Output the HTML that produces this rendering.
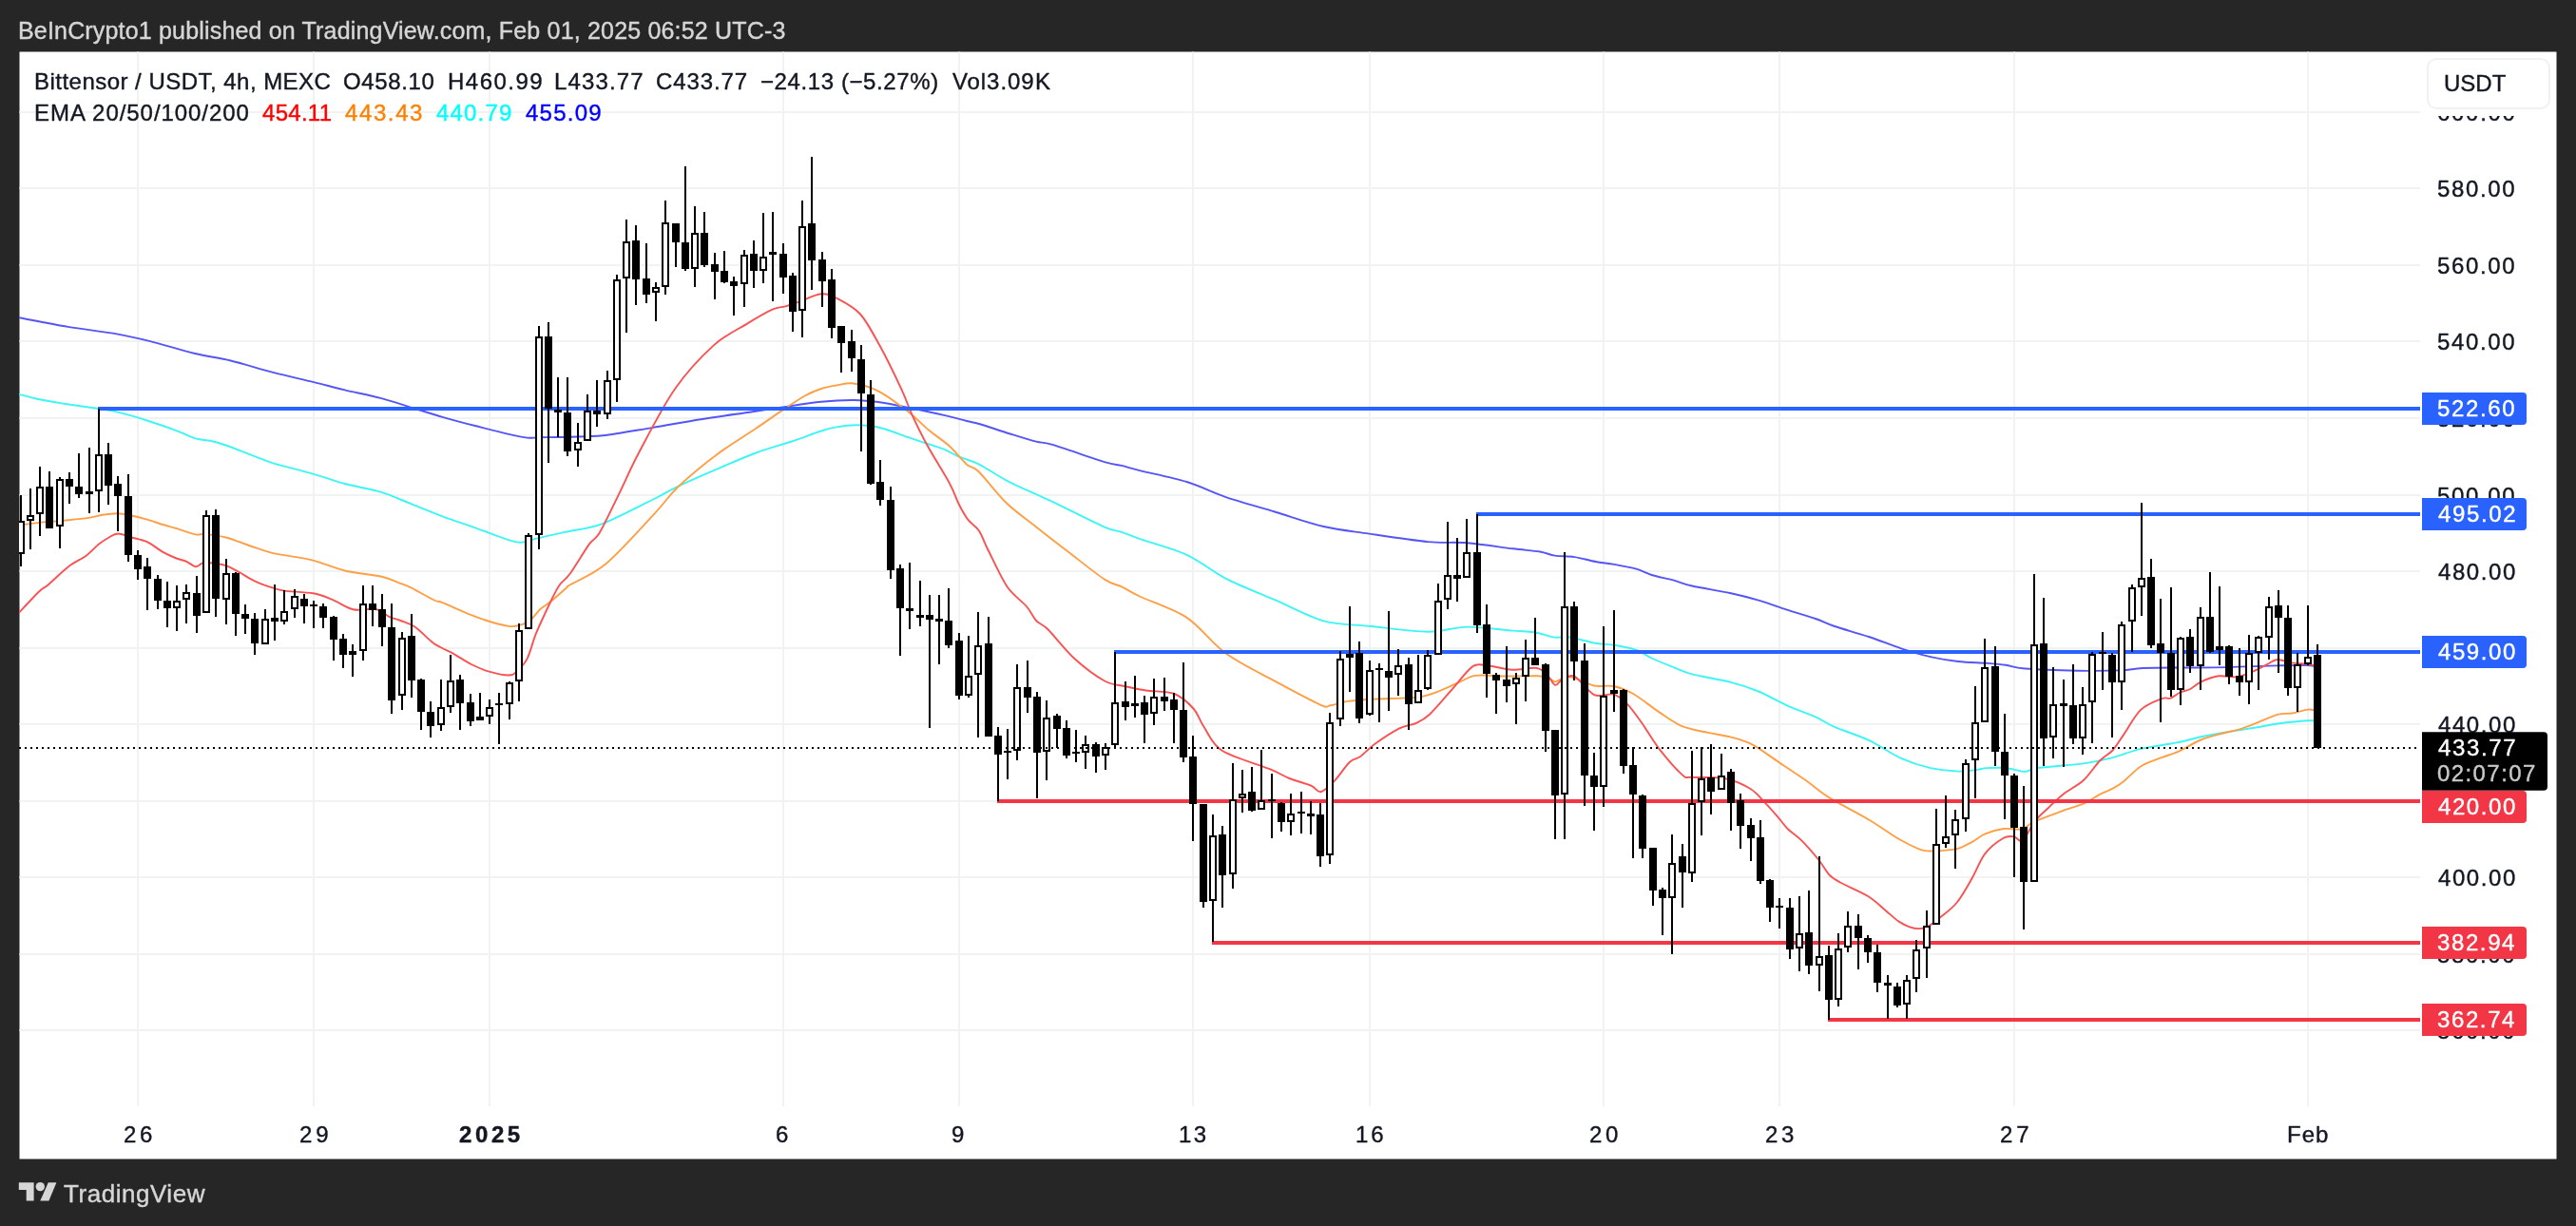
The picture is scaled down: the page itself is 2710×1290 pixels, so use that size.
<!DOCTYPE html><html><head><meta charset="utf-8"><title>TAO chart</title><style>
html,body{margin:0;padding:0}body{width:2710px;height:1290px;background:#262626;position:relative;overflow:hidden;font-family:"Liberation Sans",sans-serif}
.t{position:absolute;white-space:pre;font-family:"Liberation Sans",sans-serif;will-change:transform;-webkit-text-stroke:0.4px currentColor}
.usdt{position:absolute;left:2553px;top:61px;width:126px;height:50px;border:2px solid #f0f1f4;border-radius:10px;background:#fff}
</style></head><body>
<svg width="2710" height="1290" viewBox="0 0 2710 1290" style="position:absolute;left:0;top:0"><rect x="20.5" y="54.5" width="2669" height="1165" fill="#fff"/><path d="M20.5 118H2546M20.5 198H2546M20.5 279H2546M20.5 359H2546M20.5 440H2546M20.5 521H2546M20.5 601H2546M20.5 682H2546M20.5 762H2546M20.5 843H2546M20.5 923H2546M20.5 1004H2546M20.5 1084H2546M145 54.5V1164M330 54.5V1164M515 54.5V1164M824 54.5V1164M1009 54.5V1164M1255 54.5V1164M1441 54.5V1164M1687 54.5V1164M1872 54.5V1164M2119 54.5V1164M2428 54.5V1164" stroke="#f1f3f3" stroke-width="2" fill="none"/><clipPath id="c"><rect x="20" y="54" width="2526" height="1110"/></clipPath><g clip-path="url(#c)"><path d="M20.0 334.3C28.2 335.8 55.0 341.2 71.4 343.9C87.8 346.6 109.1 349.0 122.8 351.4C136.5 353.8 143.9 355.6 157.1 358.9C170.3 362.2 191.4 368.7 205.1 372.0C218.8 375.3 229.6 376.3 242.8 379.5C256.0 382.7 273.3 388.2 287.3 391.8C301.3 395.4 318.0 399.1 330.1 402.1C342.2 405.1 351.5 407.6 362.7 410.3C373.9 413.0 389.2 415.9 400.4 418.9C411.6 421.9 422.6 425.7 433.0 428.9C443.4 432.1 454.8 435.7 465.5 438.8C476.2 441.9 488.8 445.2 499.8 448.0C510.8 450.8 525.3 454.6 534.1 456.6C542.9 458.6 549.1 460.0 554.6 460.6C560.1 461.2 561.0 460.3 568.3 460.2C575.6 460.1 589.4 460.0 600.0 459.7C610.6 459.4 620.6 459.8 634.3 458.3C648.0 456.8 669.3 452.8 685.7 450.1C702.1 447.4 720.7 443.8 737.1 441.2C753.5 438.6 774.8 435.7 788.5 433.7C802.2 431.7 810.7 430.3 822.8 428.5C834.9 426.7 851.8 423.9 863.9 422.7C876.0 421.5 888.3 420.9 898.2 421.0C908.1 421.1 916.3 422.0 925.6 423.3C934.9 424.6 945.4 426.8 956.4 429.0C967.4 431.2 984.4 434.9 994.1 437.1C1003.8 439.3 1011.0 441.5 1017.0 443.0C1023.0 444.5 1024.5 444.3 1031.8 446.5C1039.1 448.7 1053.3 453.6 1062.6 456.5C1071.9 459.4 1083.0 462.9 1090.1 464.7C1097.2 466.5 1095.7 464.5 1107.2 467.9C1118.7 471.3 1150.4 482.6 1162.0 486.1C1173.6 489.6 1173.9 488.4 1180.0 489.9C1186.1 491.4 1189.0 492.6 1200.0 495.3C1211.0 498.0 1234.1 502.6 1248.5 507.0C1262.9 511.4 1274.9 518.1 1289.7 523.1C1304.5 528.1 1324.7 533.6 1341.1 538.5C1357.5 543.4 1376.6 550.3 1392.5 554.0C1408.4 557.7 1422.9 559.0 1440.4 561.6C1457.9 564.2 1485.6 568.5 1502.1 570.1C1518.6 571.7 1529.0 570.1 1543.3 571.3C1557.6 572.5 1578.9 575.8 1591.2 577.3C1603.5 578.8 1612.9 579.3 1620.0 580.5C1627.1 581.7 1629.9 583.7 1635.7 584.6C1641.5 585.5 1649.6 585.1 1656.5 586.1C1663.4 587.1 1672.0 589.8 1678.7 591.0C1685.4 592.2 1691.5 592.7 1698.3 593.9C1705.1 595.1 1715.2 596.9 1721.5 598.7C1727.8 600.5 1731.3 603.1 1737.5 605.0C1743.7 606.9 1753.2 608.6 1760.0 610.4C1766.8 612.2 1770.4 614.3 1780.0 616.5C1789.6 618.7 1808.8 621.6 1820.0 624.0C1831.2 626.4 1840.4 628.8 1850.0 631.6C1859.6 634.4 1870.4 638.5 1880.0 641.6C1889.6 644.7 1902.0 648.2 1910.0 651.0C1918.0 653.8 1921.0 656.0 1930.0 659.0C1939.0 662.0 1954.8 666.3 1966.0 670.0C1977.2 673.7 1989.8 679.0 2000.0 682.3C2010.2 685.6 2020.4 688.7 2030.0 690.9C2039.6 693.1 2050.4 694.9 2060.0 696.0C2069.6 697.1 2082.0 697.2 2090.0 697.8C2098.0 698.4 2103.6 698.8 2110.0 699.7C2116.4 700.6 2118.0 702.5 2130.2 703.5C2142.4 704.5 2169.8 705.4 2186.0 705.7C2202.2 706.0 2220.4 705.8 2231.3 705.4C2242.2 705.0 2243.1 703.5 2254.1 703.0C2265.1 702.5 2285.6 702.6 2299.8 702.5C2314.0 702.4 2327.6 702.4 2343.0 702.1C2358.4 701.8 2382.4 700.7 2396.0 700.4C2409.6 700.1 2421.3 699.8 2427.9 700.0C2434.5 700.2 2435.5 701.4 2437.0 701.7" stroke="#5555f6" stroke-width="1.9" fill="none" stroke-linejoin="round" stroke-linecap="round"/><path d="M20.0 414.8C23.2 415.6 32.5 418.4 40.1 420.0C47.7 421.6 57.3 423.1 67.3 424.7C77.3 426.3 93.7 428.5 102.8 429.9C111.9 431.3 115.8 431.7 124.1 433.7C132.4 435.7 145.0 439.4 154.8 442.5C164.6 445.6 177.5 450.1 185.6 453.1C193.7 456.1 200.0 459.7 205.7 461.4C211.4 463.1 216.0 462.7 221.1 463.8C226.2 464.9 230.0 465.9 237.6 468.5C245.2 471.1 260.4 477.3 268.4 480.3C276.4 483.3 277.4 484.4 287.3 487.4C297.2 490.4 318.0 495.3 330.1 498.8C342.2 502.3 351.5 506.0 362.7 509.0C373.9 512.0 389.2 514.2 400.4 517.6C411.6 521.0 422.6 526.2 433.0 530.3C443.4 534.4 454.8 539.3 465.5 543.3C476.2 547.3 488.8 551.4 499.8 555.3C510.8 559.2 526.4 565.3 534.1 567.8C541.8 570.3 543.4 570.9 547.8 570.8C552.2 570.7 554.9 568.9 561.5 567.3C568.1 565.7 582.7 562.5 588.9 561.1C595.1 559.7 592.7 560.3 600.0 558.7C607.3 557.1 620.0 556.4 634.3 550.9C648.6 545.4 676.5 530.8 689.1 524.5C701.7 518.2 702.7 516.7 713.1 511.8C723.5 506.9 741.0 499.2 754.2 493.6C767.4 488.0 782.7 481.2 795.3 476.5C807.9 471.8 822.0 468.2 833.0 464.5C844.0 460.8 856.4 455.9 863.9 453.5C871.4 451.1 874.0 450.4 880.0 449.4C886.0 448.4 894.3 447.2 901.6 447.3C908.9 447.4 916.8 447.9 925.6 450.0C934.4 452.1 948.4 457.7 956.4 460.4C964.4 463.1 969.9 465.0 975.9 467.0C981.9 469.0 988.8 470.9 994.1 473.1C999.4 475.3 1003.3 478.3 1009.0 480.7C1014.7 483.1 1021.6 484.3 1029.6 488.3C1037.6 492.3 1049.6 500.7 1059.3 505.8C1069.0 510.9 1082.4 516.7 1090.1 520.2C1097.8 523.7 1095.7 522.4 1107.2 527.9C1118.7 533.4 1150.4 549.5 1162.0 554.6C1173.6 559.7 1173.9 557.8 1180.0 559.8C1186.1 561.8 1189.0 563.5 1200.0 567.3C1211.0 571.1 1234.1 577.2 1248.5 583.8C1262.9 590.4 1274.9 601.2 1289.7 608.8C1304.5 616.4 1324.7 624.0 1341.1 631.1C1357.5 638.2 1376.6 648.9 1392.5 653.3C1408.4 657.7 1422.9 657.0 1440.4 658.8C1457.9 660.6 1485.6 664.6 1502.1 664.7C1518.6 664.8 1529.0 659.8 1543.3 659.6C1557.6 659.4 1579.9 662.7 1591.2 663.6C1602.5 664.5 1606.7 664.1 1613.8 665.2C1620.9 666.3 1629.9 669.8 1635.7 670.6C1641.5 671.4 1643.1 669.3 1650.0 670.3C1656.9 671.3 1671.0 675.4 1678.7 676.8C1686.4 678.2 1691.5 677.6 1698.3 678.8C1705.1 680.0 1715.2 681.8 1721.5 684.0C1727.8 686.2 1731.3 689.6 1737.5 692.5C1743.7 695.4 1753.2 699.2 1760.0 701.9C1766.8 704.6 1770.4 706.9 1780.0 709.4C1789.6 711.9 1808.8 714.8 1820.0 717.7C1831.2 720.6 1840.4 723.6 1850.0 727.5C1859.6 731.4 1870.4 738.0 1880.0 742.3C1889.6 746.6 1902.0 750.7 1910.0 754.3C1918.0 757.9 1921.0 761.0 1930.0 764.9C1939.0 768.8 1954.8 773.6 1966.0 778.9C1977.2 784.2 1989.8 793.3 2000.0 797.9C2010.2 802.5 2020.4 805.7 2030.0 807.9C2039.6 810.1 2052.0 811.3 2060.0 811.6C2068.0 811.9 2075.2 810.5 2080.0 809.9C2084.8 809.3 2085.2 808.4 2090.0 808.1C2094.8 807.8 2103.6 807.4 2110.0 808.0C2116.4 808.6 2125.3 811.8 2130.2 811.9C2135.1 812.0 2134.1 809.5 2140.5 808.5C2146.9 807.5 2162.0 806.3 2170.2 805.5C2178.4 804.7 2183.5 804.7 2191.9 803.4C2200.3 802.1 2213.0 799.6 2222.7 797.1C2232.4 794.6 2241.6 790.4 2252.4 787.9C2263.2 785.4 2279.9 783.4 2290.0 781.4C2300.1 779.4 2307.6 777.0 2315.4 775.3C2323.2 773.6 2329.3 772.6 2338.8 771.0C2348.3 769.4 2365.6 766.8 2374.8 765.3C2384.0 763.8 2387.5 762.6 2396.0 761.5C2404.5 760.4 2421.3 758.7 2427.9 758.3C2434.5 757.9 2435.5 758.6 2437.0 758.7" stroke="#3df5f5" stroke-width="1.9" fill="none" stroke-linejoin="round" stroke-linecap="round"/><path d="M20.0 552.6C23.8 552.1 36.1 550.4 43.7 549.6C51.3 548.8 59.4 548.5 67.3 547.7C75.2 546.9 86.9 545.8 93.3 544.9C99.7 544.0 102.6 542.6 107.5 541.8C112.4 541.0 119.2 540.1 124.1 540.2C129.0 540.3 133.4 541.5 138.3 542.5C143.2 543.5 149.5 545.1 154.8 546.6C160.1 548.1 166.5 550.5 171.4 552.0C176.3 553.5 180.1 554.3 185.6 556.0C191.1 557.7 201.2 561.5 205.7 562.4C210.2 563.3 210.8 561.8 214.0 561.9C217.2 562.0 222.0 562.5 225.8 563.1C229.6 563.7 233.4 564.4 237.6 565.5C241.8 566.6 246.9 568.5 251.8 570.2C256.7 571.9 262.7 574.2 268.4 576.1C274.1 578.0 281.6 580.7 287.3 582.1C293.0 583.5 297.1 583.7 303.9 584.9C310.7 586.1 320.7 587.3 330.1 589.8C339.5 592.3 351.5 597.8 362.7 600.5C373.9 603.2 391.0 604.4 400.4 606.5C409.8 608.6 416.2 611.8 421.4 613.8C426.6 615.8 427.4 615.9 433.0 618.7C438.6 621.5 451.5 629.0 456.7 631.5C461.9 634.0 459.2 631.6 465.5 634.1C471.8 636.6 487.8 643.9 495.8 647.1C503.8 650.3 509.1 652.1 515.4 654.0C521.7 655.9 530.0 658.3 535.0 658.9C540.0 659.5 543.0 658.9 546.7 657.9C550.4 656.9 554.5 655.2 558.0 652.5C561.5 649.8 564.8 644.2 568.3 641.0C571.8 637.8 575.6 636.1 580.0 632.5C584.4 628.9 592.5 621.5 595.7 618.7C598.9 615.9 593.3 619.3 600.0 615.2C606.7 611.1 623.4 605.0 637.7 593.0C652.0 581.0 677.0 552.8 689.1 539.9C701.2 527.0 702.7 522.4 713.1 512.5C723.5 502.6 741.0 488.1 754.2 478.2C767.4 468.3 784.3 458.2 795.3 450.8C806.3 443.4 814.6 437.4 822.8 431.9C831.0 426.4 840.1 420.2 846.7 416.5C853.3 412.8 858.6 410.8 863.9 409.0C869.2 407.2 874.5 406.4 880.0 405.5C885.5 404.6 890.9 402.4 898.2 403.5C905.5 404.6 916.3 407.4 925.6 412.3C934.9 417.2 948.2 427.6 956.4 434.0C964.6 440.4 970.2 446.9 977.0 452.5C983.8 458.1 992.3 463.5 998.7 469.3C1005.1 475.1 1012.1 484.4 1017.0 488.7C1021.9 493.0 1022.8 489.6 1029.6 496.2C1036.4 502.8 1049.6 520.5 1059.3 529.8C1069.0 539.1 1079.7 546.2 1090.1 554.4C1100.5 562.6 1112.8 572.2 1124.3 581.0C1135.8 589.8 1153.1 603.8 1162.0 609.6C1170.9 615.4 1173.9 614.5 1180.0 617.4C1186.1 620.3 1189.0 622.8 1200.0 628.0C1211.0 633.2 1234.1 640.4 1248.5 649.9C1262.9 659.4 1274.9 676.9 1289.7 687.6C1304.5 698.3 1325.2 708.1 1341.1 716.7C1357.0 725.3 1379.7 737.5 1389.0 741.6C1398.3 745.7 1395.0 742.9 1399.5 742.3C1404.0 741.7 1409.8 739.0 1417.4 737.9C1425.0 736.8 1434.3 736.3 1447.1 735.5C1459.9 734.7 1483.8 735.2 1497.3 732.6C1510.8 730.0 1522.8 723.0 1531.6 719.5C1540.4 716.0 1543.7 712.2 1552.1 710.9C1560.5 709.6 1573.5 711.4 1584.1 711.5C1594.7 711.6 1611.1 710.9 1618.4 711.3C1625.7 711.7 1627.0 712.8 1629.8 713.8C1632.6 714.8 1633.8 717.4 1636.0 717.4C1638.2 717.4 1640.5 714.6 1643.5 713.8C1646.5 713.0 1649.2 711.5 1654.6 712.7C1660.0 713.9 1670.2 720.0 1677.1 721.5C1684.0 723.0 1691.0 720.6 1697.6 722.0C1704.2 723.4 1710.5 725.6 1718.2 730.0C1725.9 734.4 1737.4 743.9 1745.6 749.4C1753.8 754.9 1761.2 760.7 1769.6 764.2C1778.0 767.7 1789.9 769.3 1798.1 771.1C1806.3 772.9 1813.7 773.6 1821.0 775.6C1828.3 777.6 1835.8 779.4 1843.8 783.6C1851.8 787.8 1862.2 795.9 1871.2 801.9C1880.2 807.9 1891.5 815.3 1900.0 821.3C1908.5 827.3 1914.0 832.9 1924.5 839.4C1935.0 845.9 1953.9 855.3 1965.6 862.2C1977.3 869.1 1989.2 877.9 1997.6 882.8C2006.0 887.7 2013.3 891.1 2018.1 893.1C2022.9 895.1 2023.6 895.1 2027.3 895.4C2031.0 895.7 2036.0 895.5 2041.0 895.1C2046.0 894.7 2053.5 894.6 2058.8 893.2C2064.1 891.8 2069.6 888.6 2074.3 886.1C2079.0 883.6 2083.0 879.7 2088.4 877.4C2093.8 875.1 2101.9 872.8 2108.0 872.0C2114.1 871.2 2121.6 873.6 2126.8 872.4C2132.0 871.2 2133.6 867.5 2140.5 864.4C2147.4 861.3 2162.0 856.0 2170.2 853.0C2178.4 850.0 2185.7 848.4 2191.9 845.7C2198.1 843.0 2204.1 838.5 2209.0 835.9C2213.9 833.3 2218.7 831.9 2222.7 829.7C2226.7 827.5 2229.3 826.0 2234.1 822.2C2238.9 818.4 2246.0 810.2 2252.4 806.2C2258.8 802.2 2267.8 799.6 2274.1 797.1C2280.4 794.6 2285.4 793.6 2292.0 790.6C2298.6 787.6 2307.9 781.6 2315.4 778.5C2322.9 775.4 2332.0 773.4 2338.8 771.5C2345.6 769.6 2352.1 768.6 2357.9 766.8C2363.7 765.0 2368.7 762.8 2374.8 760.4C2380.9 758.0 2390.2 753.5 2396.0 751.9C2401.8 750.3 2405.8 751.3 2410.9 750.5C2416.0 749.7 2423.7 747.0 2427.9 746.6C2432.1 746.2 2435.5 747.5 2437.0 747.7" stroke="#ff9f45" stroke-width="1.9" fill="none" stroke-linejoin="round" stroke-linecap="round"/><path d="M20.0 644.7C23.4 641.1 36.4 627.0 41.3 622.3C46.2 617.6 45.9 619.4 50.8 615.2C55.7 611.0 65.6 601.1 72.0 596.2C78.4 591.3 85.9 588.2 91.0 584.4C96.1 580.6 100.2 575.6 104.0 572.6C107.8 569.6 111.4 567.3 114.6 565.5C117.8 563.7 120.3 561.5 124.1 561.5C127.9 561.5 133.4 564.1 138.3 565.5C143.2 566.9 149.5 567.7 154.8 570.2C160.1 572.7 166.5 578.1 171.4 580.9C176.3 583.7 181.6 585.9 185.6 587.5C189.6 589.1 193.0 589.4 196.2 590.8C199.4 592.2 203.0 595.9 205.7 596.2C208.4 596.5 210.3 593.3 212.8 592.7C215.3 592.1 217.1 591.8 221.1 592.2C225.1 592.6 232.7 593.5 237.6 595.1C242.5 596.7 246.9 599.6 251.8 602.2C256.7 604.8 262.7 609.0 268.4 611.6C274.1 614.2 282.4 617.1 287.3 618.7C292.2 620.3 292.5 620.7 299.2 621.6C305.9 622.5 321.4 622.9 329.4 624.3C337.4 625.7 342.3 627.9 349.0 630.6C355.7 633.3 364.5 639.6 371.4 641.2C378.3 642.8 387.4 640.5 392.0 640.7C396.6 640.9 397.6 641.4 400.4 642.7C403.2 644.0 406.3 647.5 409.7 649.1C413.1 650.7 417.0 651.3 421.4 653.0C425.8 654.7 431.5 656.1 437.1 660.0C442.7 663.9 450.4 672.9 456.7 677.3C463.0 681.7 469.9 683.8 476.2 687.3C482.5 690.8 489.5 695.9 495.8 699.0C502.1 702.1 509.1 705.1 515.4 706.9C521.7 708.7 530.6 710.5 535.0 710.5C539.4 710.5 539.7 710.0 542.8 707.2C545.9 704.4 551.2 699.7 554.6 693.1C558.0 686.5 560.2 675.6 564.3 665.7C568.4 655.8 576.1 639.6 580.0 631.5C583.9 623.4 585.7 619.8 588.9 615.3C592.1 610.8 595.0 610.2 600.0 603.3C605.0 596.4 615.1 579.2 620.0 572.4C624.9 565.6 625.8 569.0 630.8 560.5C635.8 552.0 644.8 532.7 651.4 519.3C658.0 505.9 662.7 494.0 672.0 476.5C681.3 459.0 697.1 427.8 709.7 409.7C722.3 391.6 738.7 374.4 750.8 363.4C762.9 352.4 775.2 347.1 785.1 341.1C795.0 335.1 805.9 328.7 812.5 325.7C819.1 322.7 821.8 323.6 826.2 322.3C830.6 321.0 833.9 319.9 839.9 317.8C845.9 315.7 857.3 309.9 863.9 309.3C870.5 308.7 874.4 310.8 881.0 314.2C887.6 317.6 897.9 322.6 905.0 330.5C912.1 338.4 918.6 351.1 925.6 363.8C932.6 376.5 943.0 398.1 948.5 409.9C954.0 421.7 955.5 427.8 959.9 437.3C964.3 446.8 969.7 458.0 975.9 469.3C982.1 480.6 993.4 498.2 998.7 508.1C1004.0 518.0 1005.9 524.8 1009.0 531.0C1012.1 537.2 1014.9 542.2 1018.2 546.6C1021.5 551.0 1026.3 553.0 1029.8 558.3C1033.3 563.6 1035.1 570.1 1039.9 579.5C1044.7 588.9 1053.1 607.9 1059.5 617.3C1065.9 626.7 1075.0 632.3 1079.9 638.0C1084.8 643.7 1086.5 649.1 1090.1 653.0C1093.7 656.9 1096.3 656.1 1102.7 662.5C1109.1 668.9 1120.6 684.1 1130.1 692.7C1139.6 701.3 1153.7 711.8 1162.1 716.5C1170.5 721.2 1175.8 720.4 1182.8 722.0C1189.8 723.6 1197.3 725.2 1205.7 726.5C1214.1 727.8 1227.4 726.9 1235.4 730.0C1243.4 733.1 1251.0 740.5 1255.9 746.0C1260.8 751.5 1261.4 757.2 1266.2 764.2C1271.0 771.2 1274.5 782.6 1285.6 789.8C1296.7 797.0 1324.5 804.5 1335.8 809.2C1347.1 813.9 1349.5 816.2 1356.4 819.0C1363.3 821.8 1373.9 824.3 1379.2 826.6C1384.5 828.9 1385.7 833.9 1389.5 833.2C1393.3 832.5 1398.3 827.4 1403.2 822.4C1408.1 817.4 1415.5 806.0 1420.0 801.8C1424.5 797.6 1426.8 799.1 1431.1 796.0C1435.4 792.9 1440.5 787.0 1447.1 782.3C1453.7 777.6 1465.3 769.9 1472.2 766.4C1479.1 762.9 1485.4 763.0 1490.5 760.6C1495.6 758.2 1498.7 756.6 1504.2 751.5C1509.7 746.4 1518.1 736.2 1524.7 728.7C1531.3 721.2 1540.5 709.4 1545.3 704.7C1550.1 700.0 1550.8 700.0 1554.4 699.4C1558.0 698.8 1562.2 700.0 1568.1 700.8C1574.0 701.6 1583.3 704.4 1591.0 704.7C1598.7 705.0 1610.3 702.1 1616.1 702.9C1621.9 703.7 1624.3 707.1 1627.5 710.0C1630.7 712.9 1633.5 720.0 1636.0 720.8C1638.5 721.6 1640.1 716.6 1643.3 715.1C1646.5 713.6 1650.9 709.0 1656.3 711.6C1661.7 714.2 1670.5 728.1 1677.1 731.1C1683.7 734.1 1692.1 729.1 1697.6 730.6C1703.1 732.1 1706.5 735.4 1711.3 740.2C1716.1 745.0 1721.8 753.1 1727.3 760.8C1732.8 768.5 1738.8 779.5 1745.6 788.2C1752.4 796.9 1764.1 810.3 1769.6 815.1C1775.1 819.9 1772.8 817.3 1779.9 817.9C1787.0 818.5 1804.2 817.1 1814.1 819.0C1824.0 820.9 1834.6 825.8 1841.5 830.0C1848.4 834.2 1853.0 840.7 1857.5 845.3C1862.0 849.9 1865.9 854.4 1869.7 858.8C1873.5 863.2 1877.1 868.5 1881.1 872.5C1885.1 876.5 1889.7 878.8 1894.8 883.9C1899.9 889.0 1908.3 898.6 1913.1 904.5C1917.9 910.4 1920.9 916.7 1924.5 920.5C1928.1 924.3 1929.3 924.9 1935.9 928.5C1942.5 932.1 1957.9 938.5 1965.6 943.3C1973.3 948.1 1978.8 954.0 1983.9 958.2C1989.0 962.4 1993.6 966.9 1997.6 969.6C2001.6 972.3 2005.7 974.1 2009.0 975.3C2012.3 976.5 2015.2 977.1 2018.1 977.1C2021.0 977.1 2023.6 977.2 2027.3 975.3C2031.0 973.4 2036.0 969.6 2041.0 965.5C2046.0 961.4 2053.4 956.2 2058.8 949.5C2064.2 942.8 2070.1 932.0 2074.8 923.8C2079.5 915.6 2083.1 904.8 2088.4 898.1C2093.7 891.4 2102.9 884.6 2107.8 881.8C2112.7 879.0 2115.6 880.0 2118.8 880.4C2122.0 880.8 2124.4 887.1 2127.9 884.5C2131.4 881.9 2136.3 869.8 2140.5 864.4C2144.7 859.0 2149.4 855.3 2154.2 850.7C2159.0 846.1 2164.2 840.7 2170.2 835.9C2176.2 831.1 2185.7 826.7 2191.9 821.0C2198.1 815.3 2204.1 805.5 2209.0 800.5C2213.9 795.5 2218.5 793.9 2222.5 789.5C2226.5 785.1 2229.4 779.9 2234.1 773.1C2238.8 766.3 2245.7 753.0 2252.1 746.9C2258.5 740.8 2269.4 737.1 2274.4 735.1C2279.4 733.1 2280.4 735.7 2283.5 734.6C2286.6 733.5 2290.2 730.0 2293.5 728.5C2296.8 727.0 2300.8 726.8 2304.3 725.0C2307.8 723.2 2310.8 719.6 2315.6 717.4C2320.4 715.2 2328.2 712.1 2334.3 711.3C2340.4 710.5 2347.8 713.1 2353.6 712.3C2359.4 711.5 2365.5 708.4 2370.6 706.3C2375.7 704.2 2381.3 700.9 2385.4 698.9C2389.5 696.9 2391.9 694.2 2396.0 694.0C2400.1 693.8 2405.8 696.6 2410.9 697.4C2416.0 698.2 2423.7 698.3 2427.9 698.9C2432.1 699.5 2435.5 700.7 2437.0 701.0" stroke="#fa5252" stroke-width="1.9" fill="none" stroke-linejoin="round" stroke-linecap="round"/><rect x="103.0" y="428.0" width="2443.0" height="4" fill="#2962ff"/><rect x="1553.0" y="539.0" width="993.0" height="4" fill="#2962ff"/><rect x="1172.0" y="684.0" width="1374.0" height="4" fill="#2962ff"/><rect x="1049.0" y="841.0" width="1497.0" height="4" fill="#f23645"/><rect x="1275.0" y="990.0" width="1271.0" height="4" fill="#f23645"/><rect x="1923.0" y="1071.0" width="623.0" height="4" fill="#f23645"/><path d="M22 521V548M22 583V596M32 514V542M32 548V578M42 491V512M42 541V564M52 496V512M63 502V504M63 554V577M73 497V504M73 512V530M83 477V512M83 520V524M94 471V517M94 520V540M104 430V478M104 517V539M114 466V478M114 511V531M124 501V509M124 522V559M135 499V522M135 584V591M145 579V584M145 599V610M155 587V596M155 609V642M166 605V609M166 632V641M176 612V632M176 640V660M186 616V632M186 640V664M196 615V623M196 631V656M207 606V624M207 648V666M217 537V542M227 536V542M227 630V649M238 588V603M238 631V657M248 602V603M248 646V669M258 636V646M258 651V667M268 645V651M268 677V689M279 641V651M289 615V650M289 654V674M299 621V643M299 654V657M310 620V627M310 641V650M320 625V630M320 638V656M330 632V636M330 638V661M340 635V638M340 650V661M351 648V649M351 673V695M361 667V672M361 689V703M371 678V685M371 689V712M382 616V635M382 685V695M392 616V635M392 642V659M402 625V641M402 660V680M412 635V660M412 737V751M423 665V671M423 732V747M433 646V669M433 716V734M443 714V715M443 749V768M453 738V749M453 764V776M464 715V744M464 763V769M474 689V716M474 744V750M484 710V715M484 740V768M495 730V739M495 759V764M505 729V754M515 736V744M515 754V762M525 729V740M525 742V783M536 717V718M536 741V757M546 656V663M546 717V738M556 561V563M567 343V354M567 563V578M577 339V354M577 430V487M587 397V431M587 434V460M597 397V434M597 475V480M608 445V465M608 474V491M618 415V432M628 400V432M628 436V449M639 390V400M639 436V441M649 289V294M649 400V423M659 231V254M659 293V350M669 237V253M669 294V321M680 256V293M680 310V319M690 297V302M690 308V338M700 211V234M700 302V310M711 255V281M721 175V255M721 283V285M731 217V245M731 283V302M741 223V245M741 279V281M752 266V278M752 286V315M762 264V285M762 297V298M772 291V296M772 301V332M783 263V268M783 299V323M793 253V267M793 285V303M803 224V270M803 285V298M813 223V265M813 268V317M824 256V267M824 292V309M834 287V290M834 328V349M844 211V238M844 327V355M854 165V235M854 274V305M865 265V273M865 296V323M875 283V294M875 345V356M885 361V392M896 347V359M896 377V391M906 363V378M906 414V475M916 400V415M916 509V510M926 484V507M926 526V532M937 512V526M937 600V609M947 594V598M947 640V690M957 592V640M957 643V662M968 611V647M968 650V659M978 626V647M978 652V766M988 626V651M988 654V699M998 619V653M998 679V682M1009 666V674M1009 732V736M1019 669V711M1019 732V734M1029 644V679M1029 710V776M1040 649V677M1050 765V774M1050 794V843M1060 767V790M1060 792V820M1070 699V723M1070 790V800M1081 695V723M1081 734V750M1091 728V733M1091 792V840M1101 737V755M1101 791V821M1112 751V753M1112 767V787M1122 758V766M1122 795V798M1132 768V791M1132 793V802M1142 774V783M1142 792V809M1153 781V783M1153 796V813M1163 782V786M1163 795V810M1173 686V739M1173 784V787M1184 717V738M1184 744V758M1194 711V740M1194 743V755M1204 732V739M1204 752V782M1214 714V733M1214 751V763M1225 713V733M1225 738V748M1235 729V736M1235 747V782M1245 697V747M1245 797V802M1255 774V796M1255 846V885M1266 949V955M1276 857V879M1276 948V991M1286 869V878M1286 921V955M1297 803V841M1297 920V935M1307 810V835M1307 840V855M1317 807V833M1317 853V854M1327 789V842M1338 814V841M1338 843V882M1348 844V845M1348 865V875M1358 835V856M1358 865V879M1369 833V854M1369 856V877M1379 843V856M1379 859V878M1389 845V857M1389 901V912M1399 750V760M1399 900V909M1410 685V693M1410 757V764M1420 638V688M1420 692V728M1430 675V687M1430 756V761M1441 695V705M1441 752V753M1451 698V703M1451 705V760M1461 643V706M1461 713V748M1471 683V700M1471 710V732M1482 692V699M1482 741V768M1492 689V726M1502 684V689M1502 725V726M1513 614V632M1523 549V605M1523 631V641M1533 566V605M1533 609V633M1543 546V581M1554 541V581M1554 658V666M1564 636V657M1564 709V734M1574 708V710M1574 716V751M1585 680V715M1585 722V739M1595 708V713M1595 720V762M1605 673V692M1605 712V738M1615 650V692M1626 698V699M1626 769V791M1636 837V883M1646 581V638M1646 836V883M1656 633V638M1656 696V716M1667 677V695M1667 816V848M1677 792V816M1677 828V874M1687 659V732M1687 828V849M1698 642V726M1698 730V749M1708 725V726M1708 806V814M1718 786V805M1718 836V903M1728 836V837M1728 893V903M1739 937V953M1749 934V936M1749 945V984M1759 878V908M1759 945V1004M1770 888V901M1770 918V955M1780 790V845M1780 919V928M1790 786V819M1790 844V879M1800 783V818M1800 833V857M1811 793V816M1821 809V812M1821 845V874M1831 835V842M1831 869V893M1842 861V868M1842 882V906M1852 863V881M1852 927V930M1862 925V926M1862 955V970M1872 945V953M1872 955V977M1883 945V955M1883 999V1009M1893 943V982M1893 998V1022M1903 937V981M1903 1016V1025M1914 901V1006M1914 1016V1043M1924 995V1005M1924 1052V1073M1934 982V998M1934 1052V1059M1944 959V974M1944 997V1002M1955 962V974M1955 987V1020M1965 984V987M1965 1002V1013M1975 994V1002M1975 1034V1044M1986 1026V1034M1986 1037V1072M1996 1034V1038M1996 1058V1060M2006 1026V1031M2006 1057V1072M2016 989V999M2016 1030V1044M2027 958V974M2027 998V1029M2037 851V888M2047 837V880M2047 888V892M2057 852V862M2057 879V914M2068 799V803M2068 862V875M2078 722V760M2078 800V840M2088 672V702M2099 680V701M2099 791V806M2109 751V791M2109 816V862M2119 814V816M2119 871V923M2129 827V870M2129 928V978M2140 604V678M2150 629V677M2150 777V806M2160 702V741M2160 776V798M2171 715V740M2171 743V807M2181 699V742M2181 777V783M2191 723V741M2191 777V794M2201 686V688M2201 739V782M2212 665V686M2212 688V726M2222 687V689M2222 718V776M2232 654V657M2232 718V747M2243 615V618M2243 654V686M2253 529V608M2253 618V648M2263 588V607M2263 679V682M2273 630V677M2273 687V760M2284 618V687M2284 726V733M2294 670V671M2294 726V742M2304 662V670M2304 701V708M2315 639V649M2315 701V726M2325 602V649M2325 686V687M2335 617V680M2335 684V700M2345 679V680M2345 712V720M2356 682V711M2356 718V732M2366 668V687M2366 718V741M2376 669V670M2376 687V726M2387 628V638M2387 671V694M2397 621V637M2397 650V708M2407 637V650M2407 724V732M2417 687V699M2417 724V749M2428 637V691M2428 699V700M2438 678V689" stroke="#000" stroke-width="2" fill="none"/><path d="M48 512h8V556h-8zM69 504h8V512h-8zM79 512h8V520h-8zM90 517h8V520h-8zM110 478h8V511h-8zM120 509h8V522h-8zM131 522h8V584h-8zM141 584h8V599h-8zM151 596h8V609h-8zM162 609h8V632h-8zM172 632h8V640h-8zM203 624h8V648h-8zM223 542h8V630h-8zM244 603h8V646h-8zM254 646h8V651h-8zM264 651h8V677h-8zM285 650h8V654h-8zM316 630h8V638h-8zM326 636h8V638h-8zM336 638h8V650h-8zM347 649h8V673h-8zM357 672h8V689h-8zM367 685h8V689h-8zM388 635h8V642h-8zM398 641h8V660h-8zM408 660h8V737h-8zM429 669h8V716h-8zM439 715h8V749h-8zM449 749h8V764h-8zM480 715h8V740h-8zM491 739h8V759h-8zM521 740h8V742h-8zM573 354h8V430h-8zM583 431h8V434h-8zM593 434h8V475h-8zM624 432h8V436h-8zM665 253h8V294h-8zM676 293h8V310h-8zM707 235h8V255h-8zM717 255h8V283h-8zM737 245h8V279h-8zM748 278h8V286h-8zM758 285h8V297h-8zM768 296h8V301h-8zM789 267h8V285h-8zM809 265h8V268h-8zM820 267h8V292h-8zM830 290h8V328h-8zM850 235h8V274h-8zM861 273h8V296h-8zM871 294h8V345h-8zM881 343h8V361h-8zM892 359h8V377h-8zM902 378h8V414h-8zM912 415h8V509h-8zM922 507h8V526h-8zM933 526h8V600h-8zM943 598h8V640h-8zM953 640h8V643h-8zM964 647h8V650h-8zM974 647h8V652h-8zM984 651h8V654h-8zM994 653h8V679h-8zM1005 674h8V732h-8zM1036 677h8V775h-8zM1046 774h8V794h-8zM1056 790h8V792h-8zM1077 723h8V734h-8zM1087 733h8V792h-8zM1108 753h8V767h-8zM1118 766h8V795h-8zM1128 791h8V793h-8zM1149 783h8V796h-8zM1180 738h8V744h-8zM1190 740h8V743h-8zM1200 739h8V752h-8zM1221 733h8V738h-8zM1231 736h8V747h-8zM1241 747h8V797h-8zM1251 796h8V846h-8zM1262 846h8V949h-8zM1282 878h8V921h-8zM1313 833h8V853h-8zM1334 841h8V843h-8zM1344 845h8V865h-8zM1365 854h8V856h-8zM1375 856h8V859h-8zM1385 857h8V901h-8zM1426 687h8V756h-8zM1447 703h8V705h-8zM1457 706h8V713h-8zM1478 699h8V741h-8zM1529 605h8V609h-8zM1550 581h8V658h-8zM1560 657h8V709h-8zM1570 710h8V716h-8zM1581 715h8V722h-8zM1611 692h8V700h-8zM1622 699h8V769h-8zM1632 768h8V837h-8zM1652 638h8V696h-8zM1663 695h8V816h-8zM1673 816h8V828h-8zM1704 726h8V806h-8zM1714 805h8V836h-8zM1724 837h8V893h-8zM1735 892h8V937h-8zM1745 936h8V945h-8zM1766 901h8V918h-8zM1796 818h8V833h-8zM1817 812h8V845h-8zM1827 842h8V869h-8zM1838 868h8V882h-8zM1848 881h8V927h-8zM1858 926h8V955h-8zM1868 953h8V955h-8zM1879 955h8V999h-8zM1899 981h8V1016h-8zM1920 1005h8V1052h-8zM1951 974h8V987h-8zM1961 987h8V1002h-8zM1971 1002h8V1034h-8zM1982 1034h8V1037h-8zM1992 1038h8V1058h-8zM2095 701h8V791h-8zM2105 791h8V816h-8zM2115 816h8V871h-8zM2125 870h8V928h-8zM2146 677h8V777h-8zM2167 740h8V743h-8zM2177 742h8V777h-8zM2208 686h8V688h-8zM2218 689h8V718h-8zM2259 607h8V679h-8zM2269 677h8V687h-8zM2280 687h8V726h-8zM2300 670h8V701h-8zM2321 649h8V686h-8zM2341 680h8V712h-8zM2352 711h8V718h-8zM2393 637h8V650h-8zM2403 650h8V724h-8zM2434 689h8V787h-8z" fill="#000"/><path d="M19 549h6V582h-6zM29 543h6V547h-6zM39 513h6V540h-6zM60 505h6V553h-6zM101 479h6V516h-6zM183 633h6V639h-6zM193 624h6V630h-6zM214 543h6V644h-6zM235 604h6V630h-6zM276 652h6V677h-6zM296 644h6V653h-6zM307 628h6V640h-6zM379 636h6V684h-6zM420 672h6V731h-6zM461 745h6V762h-6zM471 717h6V743h-6zM502 755h6V757h-6zM512 745h6V753h-6zM533 719h6V740h-6zM543 664h6V716h-6zM553 564h6V661h-6zM564 355h6V562h-6zM605 466h6V473h-6zM615 433h6V463h-6zM636 401h6V435h-6zM646 295h6V399h-6zM656 255h6V292h-6zM687 303h6V307h-6zM697 235h6V301h-6zM728 246h6V282h-6zM780 269h6V298h-6zM800 271h6V284h-6zM841 239h6V326h-6zM1016 712h6V731h-6zM1026 680h6V709h-6zM1067 724h6V789h-6zM1098 756h6V790h-6zM1139 784h6V791h-6zM1160 787h6V794h-6zM1170 740h6V783h-6zM1211 734h6V750h-6zM1273 880h6V947h-6zM1294 842h6V919h-6zM1304 836h6V839h-6zM1324 843h6V851h-6zM1355 857h6V864h-6zM1396 761h6V899h-6zM1407 694h6V756h-6zM1417 689h6V691h-6zM1438 706h6V751h-6zM1468 701h6V709h-6zM1489 727h6V739h-6zM1499 690h6V724h-6zM1510 633h6V688h-6zM1520 606h6V630h-6zM1540 582h6V607h-6zM1592 714h6V719h-6zM1602 693h6V711h-6zM1643 639h6V835h-6zM1684 733h6V827h-6zM1695 727h6V729h-6zM1756 909h6V944h-6zM1777 846h6V918h-6zM1787 820h6V843h-6zM1808 817h6V830h-6zM1890 983h6V997h-6zM1911 1007h6V1015h-6zM1931 999h6V1051h-6zM1941 975h6V996h-6zM2003 1032h6V1056h-6zM2013 1000h6V1029h-6zM2024 975h6V997h-6zM2034 889h6V972h-6zM2044 881h6V887h-6zM2054 863h6V878h-6zM2065 804h6V861h-6zM2075 761h6V799h-6zM2085 703h6V759h-6zM2137 679h6V927h-6zM2157 742h6V775h-6zM2188 742h6V776h-6zM2198 689h6V738h-6zM2229 658h6V717h-6zM2240 619h6V653h-6zM2250 609h6V617h-6zM2291 672h6V725h-6zM2312 650h6V700h-6zM2332 681h6V683h-6zM2363 688h6V717h-6zM2373 671h6V686h-6zM2384 639h6V670h-6zM2414 700h6V723h-6zM2425 692h6V698h-6z" fill="#fff" stroke="#000" stroke-width="2"/><path d="M20 787H2544" stroke="#000" stroke-width="2" stroke-dasharray="2 4" fill="none"/></g><g fill="#d6d6d6"><path d="M19.8 1244.2H35.6V1263.6H27.7V1251.9H19.8z"/><circle cx="42.3" cy="1248.6" r="4.7"/><path d="M50.8 1244.2H59.4L51.4 1263.6H42.3z"/></g></svg>
<div class="t" style="left:18.9px;top:19.8px;font-size:25px;line-height:25px;color:#d6d6d6;font-weight:normal;letter-spacing:0.176px">BeInCrypto1 published on TradingView.com, Feb 01, 2025 06:52 UTC-3</div>
<div class="t" style="left:35.6px;top:74.0px;font-size:24px;line-height:24px;color:#131722;font-weight:normal;letter-spacing:0.473px">Bittensor / USDT, 4h, MEXC</div>
<div class="t" style="left:361.4px;top:74.0px;font-size:24px;line-height:24px;color:#131722;font-weight:normal;letter-spacing:0.629px">O458.10</div>
<div class="t" style="left:470.5px;top:74.0px;font-size:24px;line-height:24px;color:#131722;font-weight:normal;letter-spacing:1.475px">H460.99</div>
<div class="t" style="left:583.1px;top:74.0px;font-size:24px;line-height:24px;color:#131722;font-weight:normal;letter-spacing:1.125px">L433.77</div>
<div class="t" style="left:689.7px;top:74.0px;font-size:24px;line-height:24px;color:#131722;font-weight:normal;letter-spacing:0.900px">C433.77</div>
<div class="t" style="left:799.6px;top:74.0px;font-size:24px;line-height:24px;color:#131722;font-weight:normal;letter-spacing:0.596px">−24.13 (−5.27%)</div>
<div class="t" style="left:1001.5px;top:74.0px;font-size:24px;line-height:24px;color:#131722;font-weight:normal;letter-spacing:0.917px">Vol3.09</div>
<div class="t" style="left:1089.2px;top:74.0px;font-size:24px;line-height:24px;color:#131722;font-weight:normal;letter-spacing:0.000px">K</div>
<div class="t" style="left:35.6px;top:107.3px;font-size:24px;line-height:24px;color:#131722;font-weight:normal;letter-spacing:0.942px">EMA 20/50/100/200</div>
<div class="t" style="left:275.9px;top:107.3px;font-size:24px;line-height:24px;color:#ff0000;font-weight:normal;letter-spacing:0.280px">454.11</div>
<div class="t" style="left:363.1px;top:107.3px;font-size:24px;line-height:24px;color:#ff8000;font-weight:normal;letter-spacing:1.605px">443.43</div>
<div class="t" style="left:458.8px;top:107.3px;font-size:24px;line-height:24px;color:#00ffff;font-weight:normal;letter-spacing:1.190px">440.79</div>
<div class="t" style="left:552.7px;top:107.3px;font-size:24px;line-height:24px;color:#0000ff;font-weight:normal;letter-spacing:1.230px">455.09</div>
<div class="t" style="left:2564.2px;top:107.0px;font-size:24px;line-height:24px;color:#131722;font-weight:normal;letter-spacing:1.705px">600.00</div>
<div class="t" style="left:2564.4px;top:187.0px;font-size:24px;line-height:24px;color:#131722;font-weight:normal;letter-spacing:1.655px">580.00</div>
<div class="t" style="left:2564.4px;top:268.0px;font-size:24px;line-height:24px;color:#131722;font-weight:normal;letter-spacing:1.655px">560.00</div>
<div class="t" style="left:2564.4px;top:348.0px;font-size:24px;line-height:24px;color:#131722;font-weight:normal;letter-spacing:1.655px">540.00</div>
<div class="t" style="left:2564.4px;top:429.0px;font-size:24px;line-height:24px;color:#131722;font-weight:normal;letter-spacing:1.655px">520.00</div>
<div class="t" style="left:2564.4px;top:510.0px;font-size:24px;line-height:24px;color:#131722;font-weight:normal;letter-spacing:1.655px">500.00</div>
<div class="t" style="left:2564.8px;top:590.0px;font-size:24px;line-height:24px;color:#131722;font-weight:normal;letter-spacing:1.580px">480.00</div>
<div class="t" style="left:2564.8px;top:671.0px;font-size:24px;line-height:24px;color:#131722;font-weight:normal;letter-spacing:1.580px">460.00</div>
<div class="t" style="left:2564.8px;top:751.0px;font-size:24px;line-height:24px;color:#131722;font-weight:normal;letter-spacing:1.580px">440.00</div>
<div class="t" style="left:2564.8px;top:832.0px;font-size:24px;line-height:24px;color:#131722;font-weight:normal;letter-spacing:1.580px">420.00</div>
<div class="t" style="left:2564.8px;top:912.0px;font-size:24px;line-height:24px;color:#131722;font-weight:normal;letter-spacing:1.580px">400.00</div>
<div class="t" style="left:2564.4px;top:993.0px;font-size:24px;line-height:24px;color:#131722;font-weight:normal;letter-spacing:1.655px">380.00</div>
<div class="t" style="left:2564.4px;top:1073.0px;font-size:24px;line-height:24px;color:#131722;font-weight:normal;letter-spacing:1.655px">360.00</div>
<div class="t" style="left:129.7px;top:1182.1px;font-size:24px;line-height:24px;color:#131722;font-weight:normal;letter-spacing:3.675px">26</div>
<div class="t" style="left:314.7px;top:1182.1px;font-size:24px;line-height:24px;color:#131722;font-weight:normal;letter-spacing:3.800px">29</div>
<div class="t" style="left:482.9px;top:1182.1px;font-size:24px;line-height:24px;color:#131722;font-weight:bold;letter-spacing:3.600px">2025</div>
<div class="t" style="left:816.4px;top:1182.1px;font-size:24px;line-height:24px;color:#131722;font-weight:normal;letter-spacing:0.000px">6</div>
<div class="t" style="left:1001.4px;top:1182.1px;font-size:24px;line-height:24px;color:#131722;font-weight:normal;letter-spacing:0.000px">9</div>
<div class="t" style="left:1240.0px;top:1182.1px;font-size:24px;line-height:24px;color:#131722;font-weight:normal;letter-spacing:2.500px">13</div>
<div class="t" style="left:1425.8px;top:1182.1px;font-size:24px;line-height:24px;color:#131722;font-weight:normal;letter-spacing:3.000px">16</div>
<div class="t" style="left:1671.7px;top:1182.1px;font-size:24px;line-height:24px;color:#131722;font-weight:normal;letter-spacing:3.550px">20</div>
<div class="t" style="left:1856.7px;top:1182.1px;font-size:24px;line-height:24px;color:#131722;font-weight:normal;letter-spacing:3.675px">23</div>
<div class="t" style="left:2103.7px;top:1182.1px;font-size:24px;line-height:24px;color:#131722;font-weight:normal;letter-spacing:3.800px">27</div>
<div class="t" style="left:2405.9px;top:1182.1px;font-size:24px;line-height:24px;color:#131722;font-weight:normal;letter-spacing:1.000px">Feb</div>
<div style="position:absolute;left:2548px;top:56px;width:140px;height:65.5px;background:#fff"></div><div class="usdt"></div>
<svg width="2710" height="1290" style="position:absolute;left:0;top:0"><path d="M2548 413.0h106.0a4 4 0 0 1 4 4v26.0a4 4 0 0 1 -4 4h-106.0z" fill="#2962ff"/><path d="M2548 524.0h106.0a4 4 0 0 1 4 4v26.0a4 4 0 0 1 -4 4h-106.0z" fill="#2962ff"/><path d="M2548 669.0h106.0a4 4 0 0 1 4 4v26.0a4 4 0 0 1 -4 4h-106.0z" fill="#2962ff"/><path d="M2548 832.0h106.0a4 4 0 0 1 4 4v26.0a4 4 0 0 1 -4 4h-106.0z" fill="#f23645"/><path d="M2548 975.0h106.0a4 4 0 0 1 4 4v26.0a4 4 0 0 1 -4 4h-106.0z" fill="#f23645"/><path d="M2548 1056.0h106.0a4 4 0 0 1 4 4v26.0a4 4 0 0 1 -4 4h-106.0z" fill="#f23645"/><path d="M2548 770.2h128a4 4 0 0 1 4 4v53.6a4 4 0 0 1 -4 4h-128z" fill="#000"/></svg>
<div class="t" style="left:2564.4px;top:417.9px;font-size:24px;line-height:24px;color:#fff;font-weight:normal;letter-spacing:1.655px">522.60</div>
<div class="t" style="left:2564.8px;top:528.9px;font-size:24px;line-height:24px;color:#fff;font-weight:normal;letter-spacing:1.630px">495.02</div>
<div class="t" style="left:2564.8px;top:673.9px;font-size:24px;line-height:24px;color:#fff;font-weight:normal;letter-spacing:1.580px">459.00</div>
<div class="t" style="left:2564.8px;top:774.9px;font-size:24px;line-height:24px;color:#fff;font-weight:normal;letter-spacing:1.630px">433.77</div>
<div class="t" style="left:2564.4px;top:802.3px;font-size:24px;line-height:24px;color:#c8c8c8;font-weight:normal;letter-spacing:1.414px">02:07:07</div>
<div class="t" style="left:2564.8px;top:836.9px;font-size:24px;line-height:24px;color:#fff;font-weight:normal;letter-spacing:1.580px">420.00</div>
<div class="t" style="left:2564.4px;top:979.9px;font-size:24px;line-height:24px;color:#fff;font-weight:normal;letter-spacing:1.605px">382.94</div>
<div class="t" style="left:2564.4px;top:1060.9px;font-size:24px;line-height:24px;color:#fff;font-weight:normal;letter-spacing:1.605px">362.74</div>
<div class="t" style="left:2571.2px;top:75.9px;font-size:24px;line-height:24px;color:#131722;font-weight:normal;letter-spacing:0.000px">USDT</div>
<div class="t" style="left:66.5px;top:1242.7px;font-size:26px;line-height:26px;color:#d6d6d6;font-weight:normal;letter-spacing:0.537px">TradingView</div>
</body></html>
